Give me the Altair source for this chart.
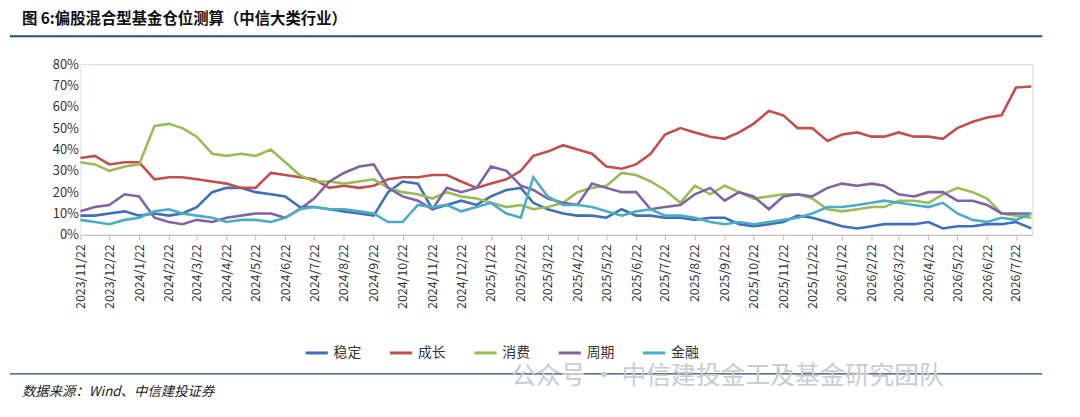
import altair as alt
import pandas as pd

SERIES = ["稳定", "成长", "消费", "周期", "金融"]
COLORS = ["#3f6fb4", "#c0504d", "#9bbb59", "#8064a2", "#4bacc6"]

# half-monthly readings (7th and 22nd), 2023/11/22 .. 2026/8/7, in %
stable = [9, 9, 10,
          11, 9, 10, 9, 10, 13, 20, 22, 22, 20, 19, 18, 13, 13, 12, 11, 10, 9, 20, 25, 24, 12, 14, 16,
          14, 18, 21, 22, 15, 12, 10, 9, 9, 8, 12, 9, 9, 8, 8, 7, 8, 8, 5, 4, 5, 6, 9, 8,
          6, 4, 3, 4, 5, 5, 5, 6, 3, 4, 4, 5, 5, 6, 3]
growth = [36, 37, 33,
          34, 34, 26, 27, 27, 26, 25, 24, 22, 22, 29, 28, 27, 26, 22, 23, 22, 23, 26, 27, 27, 28, 28, 25,
          22, 24, 26, 30, 37, 39, 42, 40, 38, 32, 31, 33, 38, 47, 50, 48, 46, 45, 48, 52, 58, 56, 50, 50,
          44, 47, 48, 46, 46, 48, 46, 46, 45, 50, 53, 55, 56, 69, 69.5]
consume = [34, 33, 30,
           32, 33, 51, 52, 50, 46, 38, 37, 38, 37, 40, 34, 28, 25, 25, 24, 25, 26, 22, 20, 19, 17, 20, 18,
           17, 15, 13, 14, 12, 13, 15, 20, 22, 23, 29, 28, 25, 21, 15, 23, 19, 23, 20, 17, 18, 19, 19, 17,
           12, 11, 12, 13, 13, 16, 16, 15, 19, 22, 20, 17, 10, 9, 8]
cycle = [11, 13, 14,
         19, 18, 8, 6, 5, 7, 6, 8, 9, 10, 10, 8, 12, 17, 25, 29, 32, 33, 22, 18, 16, 12, 22, 20,
         22, 32, 30, 23, 21, 17, 15, 14, 24, 22, 20, 20, 12, 13, 14, 19, 22, 16, 20, 18, 12, 18, 19, 18,
         22, 24, 23, 24, 23, 19, 18, 20, 20, 16, 16, 14, 10, 10, 10]
finance = [7, 6, 5,
           7, 8, 11, 12, 10, 9, 8, 6, 7, 7, 6, 8, 12, 13, 12, 12, 11, 10, 6, 6, 14, 13, 14, 11,
           13, 15, 10, 8, 27, 18, 14, 14, 13, 11, 9, 11, 12, 9, 9, 8, 6, 5, 6, 5, 6, 7, 8, 10,
           13, 13, 14, 15, 16, 15, 14, 13, 15, 10, 7, 6, 8, 7, 10]

dates = [pd.Timestamp("2023-11-22")]
for m in pd.date_range("2023-12-01", "2026-08-01", freq="MS"):
    dates.append(m + pd.Timedelta(days=6))
    if len(dates) < 66:
        dates.append(m + pd.Timedelta(days=21))
dates = dates[:66]

rows = []
for name, vals in zip(SERIES, [stable, growth, consume, cycle, finance]):
    for d, v in zip(dates, vals):
        rows.append({"date": d, "value": v / 100, "series": name})
df = pd.DataFrame(rows)

tick_dates = [pd.Timestamp("2023-11-22")] + list(
    pd.date_range("2023-12-01", "2026-07-01", freq="MS") + pd.Timedelta(days=21))
tick_ms = [int(t.value // 10**6) for t in tick_dates]

lines = alt.Chart(df).mark_line(strokeWidth=2.6).encode(
    x=alt.X("date:T", title=None,
            scale=alt.Scale(domain=[int(pd.Timestamp("2023-11-22").value // 10**6),
                                    int(pd.Timestamp("2026-08-08").value // 10**6)]),
            axis=alt.Axis(values=tick_ms, format="%Y/%-m/%d", labelAngle=-90,
                          labelFontSize=12.5, labelColor="#333", domainColor="#bbb",
                          tickColor="#bbb", grid=False, labelPadding=4, labelAlign="right",
                          labelBaseline="middle")),
    y=alt.Y("value:Q", title=None,
            scale=alt.Scale(domain=[0, 0.8]),
            axis=alt.Axis(format=".0%", values=[i / 10 for i in range(9)], grid=False,
                          domain=False, ticks=False, labelFontSize=13, labelColor="#333")),
    color=alt.Color("series:N", sort=SERIES,
                    scale=alt.Scale(domain=SERIES, range=COLORS),
                    legend=alt.Legend(title=None, orient="none", legendX=225, legendY=278,
                                      direction="horizontal", symbolType="stroke",
                                      symbolStrokeWidth=3, symbolSize=500, labelFontSize=14,
                                      labelColor="#333", columnPadding=22)),
)


def txt(s, x, y, size, **kw):
    return alt.Chart(pd.DataFrame({"t": [s]})).mark_text(
        align="left", baseline="middle", fontSize=size, **kw
    ).encode(text="t:N", x=alt.value(x), y=alt.value(y))


def rule(y, color, w):
    return alt.Chart(pd.DataFrame({"a": [0]})).mark_rule(color=color, strokeWidth=w).encode(
        x=alt.value(-71), x2=alt.value(969), y=alt.value(y))


title = txt("图 6:偏股混合型基金仓位测算（中信大类行业）", -59, -45, 15.5,
            fontWeight="bold", color="#111", font="Noto Sans CJK SC")
source = txt("数据来源：Wind、中信建投证券", -59, 330, 13.5, fontStyle="italic",
             color="#222", font="Noto Sans CJK SC")
mark = txt("公众号 · 中信建投金工及基金研究团队", 434, 314, 25, color="#cccccc",
           font="Noto Sans CJK SC")

chart = alt.layer(
    rule(-28, "#1f4e79", 2), rule(312, "#1f4e79", 1.2), lines, title, source, mark
).properties(
    width=959, height=172,
    autosize=alt.AutoSizeParams(type="none"),
    padding={"left": 73, "top": 55, "right": 40, "bottom": 180},
).configure_view(stroke=None).configure(font="Noto Sans CJK SC")

chart.save("out.html", embed_options={"renderer": "svg", "actions": False})
